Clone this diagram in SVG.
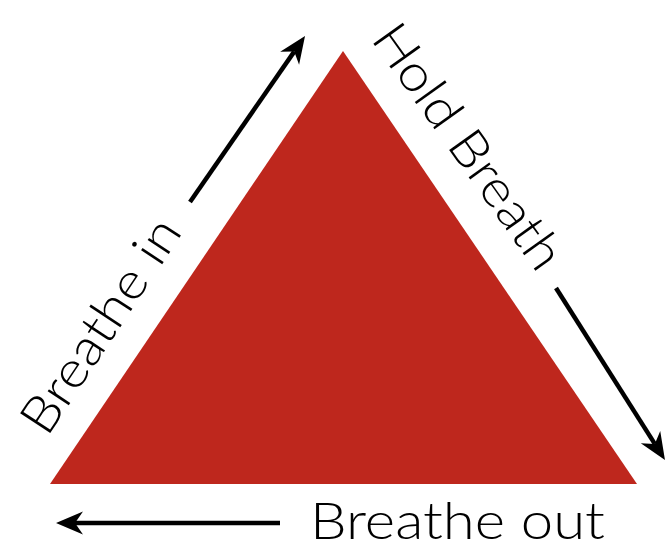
<svg xmlns="http://www.w3.org/2000/svg" width="667" height="547" viewBox="0 0 667 547">
<style>
.lbl{font-family:"Lato","Liberation Sans",sans-serif;font-weight:300;font-size:51px;fill:#000}
.arr{stroke:#000;stroke-width:4.5;fill:none;marker-end:url(#ah)}
</style>
<defs>
<marker id="ah" markerUnits="userSpaceOnUse" viewBox="-28 -13 30 26" refX="-19" refY="0" markerWidth="30" markerHeight="26" orient="auto">
<path d="M0,0 L-27,-11.5 L-19,0 L-27,11.5 Z" fill="#000"/>
</marker>
</defs>
<rect width="667" height="547" fill="#fff"/>
<g id="triangle"><polygon points="343,51 50,484 637,484" fill="#BE271D"/></g>
<g id="connectors">
<line class="arr" x1="190" y1="202" x2="294.2" y2="51.6"/>
<line class="arr" x1="556" y1="288" x2="654.8" y2="443.9"/>
<line class="arr" x1="280" y1="523" x2="75" y2="523"/>
</g>
<g id="label-in"><text class="lbl" transform="translate(47,438) rotate(-56.5)" textLength="247" lengthAdjust="spacingAndGlyphs">Breathe in</text></g>
<g id="label-hold"><text class="lbl" transform="translate(370,39) rotate(54.5)" textLength="289" lengthAdjust="spacingAndGlyphs">Hold Breath</text></g>
<g id="label-out"><text class="lbl" x="310" y="539" textLength="295" lengthAdjust="spacingAndGlyphs">Breathe out</text></g>
</svg>
